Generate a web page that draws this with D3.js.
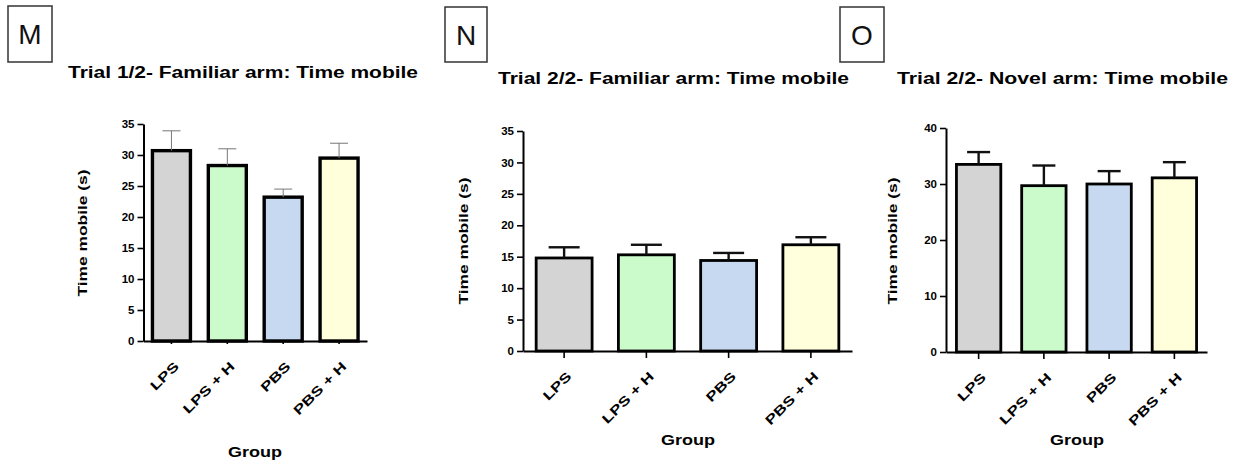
<!DOCTYPE html>
<html>
<head>
<meta charset="utf-8">
<script src="https://cdn.jsdelivr.net/npm/d3@7"></script>
<style>
  body { margin: 0; background: #fff; }
  text { font-family: "Liberation Sans", Arial, sans-serif; }
</style>
</head>
<body>
<svg id="fig" width="1238" height="463"></svg>
<script>
// Treatment groups shared by all three panels
const groups = ["LPS", "LPS + H", "PBS", "PBS + H"];

// Mean time mobile (s) and SEM per group
const trial1FamiliarMean = [30.7, 28.3, 23.2, 29.5];
const trial1FamiliarSem  = [3.2, 2.7, 1.3, 2.4];
const trial2FamiliarMean = [14.8, 15.3, 14.4, 16.9];
const trial2FamiliarSem  = [1.7, 1.6, 1.2, 1.2];
const trial2NovelMean    = [33.5, 29.7, 30.0, 31.1];
const trial2NovelSem     = [2.2, 3.6, 2.3, 2.8];

// Y-axis tick values
const ticksFine   = [0, 5, 10, 15, 20, 25, 30, 35];
const ticksCoarse = [0, 10, 20, 30, 40];

const groupFill = ["#d4d4d4", "#cbfbcb", "#c6d9f1", "#ffffdb"];

const panels = [
  {
    letter: "M", title: "Trial 1/2- Familiar arm: Time mobile",
    mean: trial1FamiliarMean, sem: trial1FamiliarSem, yMax: 35, ticks: ticksFine,
    box: [8, 6, 44, 56], titleX: 68, titleY: 78, titleLen: 350,
    x0: 143.5, x1: 367, yTop: 124, yBase: 341,
    yLab: [82, 233], groupLab: [255, 457], barStroke: 3.4,
    err: { color: "#777", width: 1, cap: 18 }, xTick: 3
  },
  {
    letter: "N", title: "Trial 2/2- Familiar arm: Time mobile",
    mean: trial2FamiliarMean, sem: trial2FamiliarSem, yMax: 35, ticks: ticksFine,
    box: [445, 7, 42, 55], titleX: 498, titleY: 84, titleLen: 351,
    x0: 523, x1: 852, yTop: 131, yBase: 351,
    yLab: [463, 241], groupLab: [688, 445], barStroke: 2.8,
    err: { color: "#111", width: 2.4, cap: 31 }, xTick: 7
  },
  {
    letter: "O", title: "Trial 2/2- Novel arm: Time mobile",
    mean: trial2NovelMean, sem: trial2NovelSem, yMax: 40, ticks: ticksCoarse,
    box: [840, 7, 44, 55], titleX: 897, titleY: 84, titleLen: 331,
    x0: 946, x1: 1207, yTop: 128, yBase: 352,
    yLab: [892, 241], groupLab: [1077, 445], barStroke: 2.8,
    err: { color: "#111", width: 2.4, cap: 23 }, xTick: 7
  }
];

const svg = d3.select("#fig");

panels.forEach(p => {
  const g = svg.append("g");

  // Panel letter in a framed box
  g.append("rect")
    .attr("x", p.box[0]).attr("y", p.box[1])
    .attr("width", p.box[2]).attr("height", p.box[3])
    .attr("fill", "none").attr("stroke", "#333").attr("stroke-width", 1.5);
  g.append("text")
    .attr("x", p.box[0] + p.box[2] / 2).attr("y", p.box[1] + p.box[3] / 2 + 10)
    .attr("text-anchor", "middle")
    .attr("font-size", 28).attr("fill", "#111")
    .text(p.letter);

  // Title
  g.append("text")
    .attr("x", p.titleX).attr("y", p.titleY)
    .attr("font-size", 16).attr("font-weight", "bold")
    .attr("textLength", p.titleLen).attr("lengthAdjust", "spacingAndGlyphs")
    .text(p.title);

  const x = d3.scaleBand().domain(groups).range([p.x0, p.x1])
    .paddingInner(0.32).paddingOuter(0.16);
  const y = d3.scaleLinear().domain([0, p.yMax]).range([p.yBase, p.yTop]);

  // Bars
  g.selectAll("rect.bar").data(groups).join("rect")
    .attr("class", "bar")
    .attr("x", d => x(d))
    .attr("y", (d, i) => y(p.mean[i]))
    .attr("width", x.bandwidth())
    .attr("height", (d, i) => y(0) - y(p.mean[i]))
    .attr("fill", (d, i) => groupFill[i])
    .attr("stroke", "#000").attr("stroke-width", p.barStroke);

  // Error bars (mean + SEM)
  const eb = g.selectAll("g.err").data(groups).join("g").attr("class", "err")
    .attr("stroke", p.err.color).attr("stroke-width", p.err.width);
  eb.append("line")
    .attr("x1", d => x(d) + x.bandwidth() / 2).attr("x2", d => x(d) + x.bandwidth() / 2)
    .attr("y1", (d, i) => y(p.mean[i])).attr("y2", (d, i) => y(p.mean[i] + p.sem[i]));
  eb.append("line")
    .attr("x1", d => x(d) + x.bandwidth() / 2 - p.err.cap / 2)
    .attr("x2", d => x(d) + x.bandwidth() / 2 + p.err.cap / 2)
    .attr("y1", (d, i) => y(p.mean[i] + p.sem[i])).attr("y2", (d, i) => y(p.mean[i] + p.sem[i]));

  // Y axis
  const yAxis = g.append("g").attr("transform", `translate(${p.x0},0)`)
    .call(d3.axisLeft(y).tickValues(p.ticks).tickSize(6).tickPadding(3).tickSizeOuter(0));
  yAxis.select(".domain").attr("stroke", "#000").attr("stroke-width", 2);
  yAxis.selectAll(".tick line").attr("stroke", "#000").attr("stroke-width", 1.6);
  yAxis.selectAll(".tick text")
    .attr("font-size", 11.5).attr("font-weight", "bold").attr("fill", "#000")
    .attr("font-family", "'Liberation Sans', Arial, sans-serif");

  // X axis
  const xAxis = g.append("g").attr("transform", `translate(0,${p.yBase})`)
    .call(d3.axisBottom(x).tickSize(p.xTick).tickSizeOuter(0).tickFormat(""));
  xAxis.select(".domain").attr("stroke", "#000").attr("stroke-width", 2);
  xAxis.selectAll(".tick line").attr("stroke", "#000").attr("stroke-width", 1.6);

  // Rotated category labels
  g.selectAll("text.cat").data(groups).join("text")
    .attr("class", "cat")
    .attr("transform", d => `translate(${x(d) + x.bandwidth() / 2 + 5},${p.yBase + 23}) rotate(-45) scale(1.35,1)`)
    .attr("text-anchor", "end").attr("dy", "0.35em")
    .attr("font-size", 13).attr("font-weight", "bold")
    .text(d => d);

  // Axis titles
  g.append("text")
    .attr("transform", `translate(${p.yLab[0]},${p.yLab[1]}) rotate(-90)`)
    .attr("text-anchor", "middle").attr("dy", "0.35em")
    .attr("font-size", 13).attr("font-weight", "bold")
    .attr("textLength", 127).attr("lengthAdjust", "spacingAndGlyphs")
    .text("Time mobile (s)");
  g.append("text")
    .attr("x", p.groupLab[0]).attr("y", p.groupLab[1])
    .attr("text-anchor", "middle")
    .attr("font-size", 14).attr("font-weight", "bold")
    .attr("textLength", 54).attr("lengthAdjust", "spacingAndGlyphs")
    .text("Group");
});
</script>
</body>
</html>
